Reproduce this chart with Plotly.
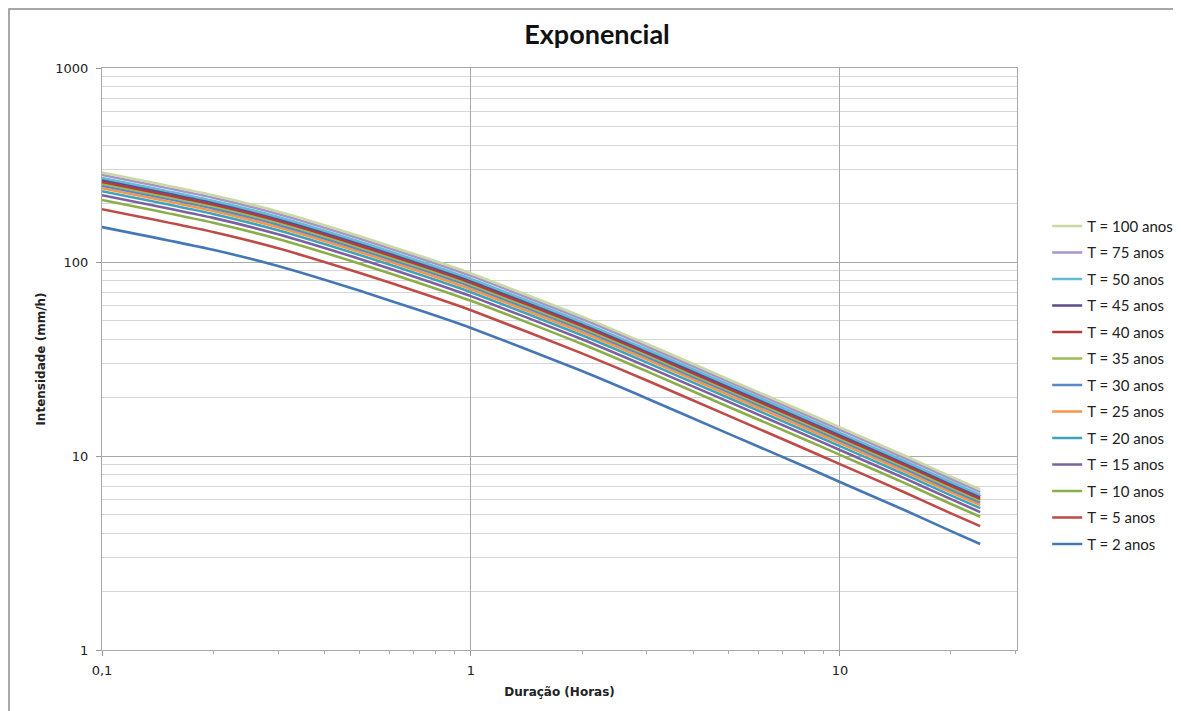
import plotly.graph_objects as go

# Durations (hours)
durations = [0.1, 0.2, 0.3, 0.5, 0.75, 1, 2, 3, 5, 8, 10, 15, 20, 24]

# Intensities (mm/h), one list per return period
t2   = [151.4, 115.6, 95.3, 71.0, 55.2, 45.7, 27.4, 19.8, 13.0, 8.85, 7.35, 5.25, 4.10, 3.52]
t5   = [187.0, 142.8, 117.7, 87.7, 68.2, 56.4, 33.8, 24.5, 16.1, 10.93, 9.08, 6.48, 5.06, 4.35]
t10  = [208.9, 159.5, 131.5, 98.0, 76.2, 63.1, 37.8, 27.3, 17.9, 12.21, 10.14, 7.25, 5.66, 4.86]
t15  = [221.0, 168.8, 139.1, 103.7, 80.6, 66.7, 40.0, 28.9, 19.0, 12.92, 10.73, 7.67, 5.99, 5.14]
t20  = [231.6, 176.9, 145.8, 108.6, 84.5, 69.9, 41.9, 30.3, 19.9, 13.54, 11.25, 8.03, 6.27, 5.39]
t25  = [240.0, 183.2, 151.1, 112.5, 87.5, 72.4, 43.4, 31.4, 20.6, 14.03, 11.65, 8.32, 6.50, 5.58]
t30  = [247.5, 189.0, 155.8, 116.1, 90.3, 74.7, 44.8, 32.4, 21.3, 14.47, 12.02, 8.58, 6.70, 5.76]
t35  = [253.6, 193.6, 159.6, 118.9, 92.5, 76.5, 45.9, 33.2, 21.8, 14.82, 12.31, 8.79, 6.87, 5.90]
t40  = [258.9, 197.7, 163.0, 121.4, 94.4, 78.1, 46.9, 33.9, 22.2, 15.13, 12.57, 8.98, 7.01, 6.02]
t45  = [265.7, 202.9, 167.3, 124.6, 96.9, 80.2, 48.1, 34.7, 22.8, 15.53, 12.90, 9.21, 7.20, 6.18]
t50  = [271.0, 206.9, 170.6, 127.1, 98.8, 81.8, 49.0, 35.4, 23.3, 15.84, 13.16, 9.40, 7.34, 6.30]
t75  = [280.8, 214.4, 176.8, 131.7, 102.4, 84.8, 50.8, 36.7, 24.1, 16.42, 13.63, 9.74, 7.61, 6.53]
t100 = [289.2, 220.8, 182.0, 135.6, 105.4, 87.3, 52.3, 37.8, 24.8, 16.90, 14.04, 10.03, 7.83, 6.72]

series_names = ["T = 2 anos", "T = 5 anos", "T = 10 anos", "T = 15 anos", "T = 20 anos",
                "T = 25 anos", "T = 30 anos", "T = 35 anos", "T = 40 anos", "T = 45 anos",
                "T = 50 anos", "T = 75 anos", "T = 100 anos"]
series_values = [t2, t5, t10, t15, t20, t25, t30, t35, t40, t45, t50, t75, t100]
series_colors = ["#4677B5", "#BE4B48", "#8AAE4A", "#7D60A0", "#3FA3BE",
                 "#F79646", "#5A8AC6", "#9BBB59", "#B83A3A", "#5F4B8B",
                 "#62BCD3", "#A894CC", "#C8D9A3"]

x_tickvals = [0.1, 1, 10]
x_ticktext = ["0,1", "1", "10"]
y_tickvals = [1, 10, 100, 1000]
y_ticktext = ["1", "10", "100", "1000"]

fig = go.Figure()
n = len(series_names)
for i, (name, vals, col) in enumerate(zip(series_names, series_values, series_colors)):
    fig.add_trace(go.Scatter(
        x=durations, y=vals, mode="lines", name=name,
        line=dict(color=col, width=2.6, shape="spline", smoothing=0.6),
        legendgroup=name, legendrank=1000 + (n - i),
    ))

x_minor = [k * 0.1 for k in range(2, 10)] + list(range(2, 10)) + [20, 30]
y_minor = [m * d for d in (1, 10, 100) for m in range(2, 10)]

W, H = 1173, 703  # page has an 8px body margin
fig.update_layout(
    width=W, height=H,
    paper_bgcolor="white", plot_bgcolor="white",
    margin=dict(l=94, r=164, t=60, b=61, autoexpand=False),
    title=dict(text="<b>Exponencial</b>", x=589 / W, xref="container", xanchor="center",
               y=1 - 27 / H, yref="container", yanchor="middle",
               font=dict(family="Lato", size=27, color="#111")),
    font=dict(family="DejaVu Sans", size=13, color="#222"),
    showlegend=True,
    legend=dict(x=1.033, xanchor="left", y=0.455, yanchor="middle",
                traceorder="grouped", tracegroupgap=4,
                font=dict(family="Lato", size=15, color="#222"),
                bgcolor="rgba(0,0,0,0)"),
    xaxis=dict(type="log", range=[-1, 1.48],
               tickvals=x_tickvals, ticktext=x_ticktext,
               ticks="outside", ticklen=5, tickcolor="#999", ticklabelstandoff=3,
               showgrid=True, gridcolor="#A8A8A8", gridwidth=1,
               showline=True, linecolor="#A8A8A8", linewidth=1, mirror=True,
               minor=dict(tickvals=x_minor, ticks="outside", ticklen=3, tickcolor="#aaa", showgrid=False),
               tickfont=dict(family="DejaVu Sans", size=13, color="#222"),
               title=dict(text="<b>Duração (Horas)</b>", standoff=11,
                          font=dict(family="DejaVu Sans", size=12, color="#222")),
               zeroline=False),
    yaxis=dict(type="log", range=[0, 3],
               tickvals=y_tickvals, ticktext=y_ticktext,
               ticks="outside", ticklen=5, tickcolor="#999", ticklabelstandoff=5,
               showgrid=True, gridcolor="#A8A8A8", gridwidth=1,
               showline=True, linecolor="#A8A8A8", linewidth=1, mirror=True,
               minor=dict(tickvals=y_minor, ticks="", showgrid=True, gridcolor="#D6D6D6", gridwidth=1),
               tickfont=dict(family="DejaVu Sans", size=13, color="#222"),
               title=dict(text="<b>Intensidade (mm/h)</b>", standoff=7,
                          font=dict(family="DejaVu Sans", size=12, color="#222")),
               zeroline=False),
    shapes=[dict(type="rect", xref="paper", yref="paper",
                 x0=(9 - 102) / 915, x1=(1190 - 102) / 915,
                 y0=(650 - 720) / 582, y1=(650 - 9) / 582,
                 line=dict(color="#8C8C8C", width=1.5), fillcolor="rgba(0,0,0,0)", layer="below")],
)

fig.write_html("out.html")
